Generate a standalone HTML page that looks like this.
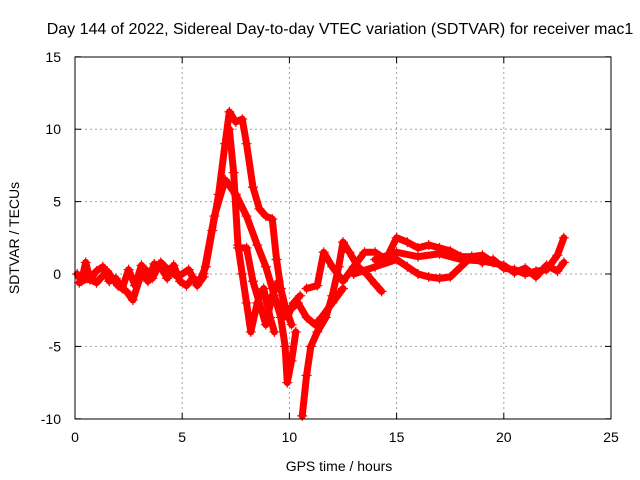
<!DOCTYPE html>
<html><head><meta charset="utf-8"><style>
body{margin:0;background:#fff}
svg{display:block;font-family:"Liberation Sans",sans-serif}
</style></head><body>
<svg id="c" width="640" height="480">
<text x="340" y="34" text-anchor="middle" font-size="16">Day 144 of 2022, Sidereal Day-to-day VTEC variation (SDTVAR) for receiver mac1</text>
<text x="339" y="471" text-anchor="middle" font-size="14">GPS time / hours</text>
<text transform="translate(19,238) rotate(-90)" text-anchor="middle" font-size="14">SDTVAR / TECUs</text>
<g id="grid"></g><g id="ticks"></g><g id="marks"></g>
<rect x="75" y="57" width="536" height="362" fill="none" stroke="#000" stroke-width="1"/>
</svg>
<script>
const xTicks=[0,5,10,15,20,25];
const yTicks=[-10,-5,0,5,10,15];
const trackA=[[0.1,0],[0.3,-0.5],[0.5,0.8],[0.7,-0.4],[1,0.2],[1.3,0.5],[1.6,-0.5],[1.9,-0.3],[2.2,-1],[2.5,0.3],[2.8,-0.8],[3.1,0.6],[3.4,-0.5],[3.7,0.7],[4,0.5],[4.3,-0.3],[4.6,0.6],[4.9,-0.5],[5.2,-0.8],[5.5,-0.3],[5.8,-0.5],[6.1,0.5],[6.4,3],[6.7,5.5],[7,9],[7.2,11.2],[7.5,10.5],[7.8,10.7],[8,9],[8.3,6],[8.6,4.5],[8.9,4],[9.2,3.8],[9.4,1],[9.6,-1],[9.9,-3],[10.2,-2],[10.5,-1.5]];
const trackA2=[[0.2,-0.6],[0.6,-0.3],[1,-0.6],[1.5,0.2],[2,-0.8],[2.4,-1.2],[2.7,-1.8],[3,-0.4],[3.3,0.3],[3.6,-0.3],[4,0.8],[4.4,0.2],[4.8,-0.2],[5.3,0.3],[5.7,-0.8],[6,-0.2]];
const trackB=[[6,0],[6.5,4],[7,6.5],[7.5,5.5],[8,4],[8.5,2],[8.9,0.5],[9.3,-1.5],[9.6,-3],[9.8,-5],[9.9,-7.5],[10.1,-6],[10.3,-4]];
const trackC=[[7.2,10],[7.4,7],[7.6,2],[7.8,0],[8,-2],[8.2,-4],[8.5,-2],[8.8,-1],[9.1,-3],[9.3,-4]];
const trackC2=[[7.6,1.8],[8,1.8],[8.3,-0.5],[8.6,-2],[8.9,-3.5],[9.2,-1.5],[9.5,-0.5],[9.8,-2.2],[10.1,-3.5]];
const trackD=[[10.6,-9.8],[10.8,-7],[11,-5],[11.3,-4],[11.7,-3],[12,-1.5],[12.3,0.5],[12.5,2.2],[12.8,1.5],[13.2,0.5],[13.6,0],[14,-0.7],[14.3,-1.2]];
const trackE=[[10.8,-1],[11.3,-0.8],[11.6,1.5],[12,0.5],[12.5,-0.5],[13,0.5],[13.5,1.5],[14,1.5],[14.5,1],[15,2.5],[15.5,2.2],[16,1.8],[16.5,2],[17,1.8],[17.5,1.6],[18,1.2],[18.5,1.2],[19,0.8],[19.5,1],[20,0.4],[20.5,0.3],[21,0],[21.5,0.2],[22,0.3],[22.5,1.3],[22.8,2.5]];
const trackF=[[13,0],[14,0.5],[15,1],[15.5,0.5],[16,0],[16.5,-0.2],[17,-0.3],[17.5,-0.2],[18,0.5],[18.5,1.2],[19,1.3],[19.5,0.8]];
const trackF2=[[14,1],[15,1.5],[16,1.2],[17,1.4],[18,1.0],[19,0.9],[20,0.6],[20.5,0.1],[21,0.4],[21.5,-0.2],[22,0.6],[22.5,0.2],[22.8,0.8]];
const trackG=[[9.5,-2],[10,-2.5],[10.4,-2],[10.8,-3],[11.2,-3.5],[11.5,-3],[12,-2],[12.5,-1]];
const tracks=[trackA,trackA2,trackB,trackC,trackC2,trackD,trackE,trackF,trackF2,trackG];
const X=t=>75+t*536/25, Y=v=>274-v*362/25;
const NS='http://www.w3.org/2000/svg';
function mk(tag,attrs,parent){const e=document.createElementNS(NS,tag);for(const k in attrs)e.setAttribute(k,attrs[k]);parent.appendChild(e);return e;}
const grid=document.getElementById('grid'),ticks=document.getElementById('ticks'),marks=document.getElementById('marks');
xTicks.forEach(t=>{const x=X(t);
 if(t>0&&t<25){const g=mk('line',{x1:x,x2:x,y1:57,y2:419,stroke:'#a0a0a0','stroke-dasharray':'2,3'},grid);
 
 }
 mk('line',{x1:x,x2:x,y1:419,y2:413,stroke:'#000'},ticks);mk('line',{x1:x,x2:x,y1:57,y2:63,stroke:'#000'},ticks);
 const l=mk('text',{x:x,y:442,'text-anchor':'middle','font-size':14},ticks);l.textContent=t;
 
 });
yTicks.forEach(v=>{const y=Y(v);
 if(v>-10&&v<15){const g=mk('line',{x1:75,x2:611,y1:y,y2:y,stroke:'#a0a0a0','stroke-dasharray':'2,3'},grid);
 
 }
 mk('line',{x1:75,x2:81,y1:y,y2:y,stroke:'#000'},ticks);mk('line',{x1:605,x2:611,y1:y,y2:y,stroke:'#000'},ticks);
 const l=mk('text',{x:61,y:y+5,'text-anchor':'end','font-size':14},ticks);l.textContent=v;
 
 });
tracks.forEach((tr,i)=>{
 const p=mk('polyline',{points:tr.map(d=>X(d[0])+','+Y(d[1])).join(' '),fill:'none',stroke:'#ff0000','stroke-width':7,'stroke-linejoin':'round','stroke-linecap':'round'},marks);
 
 
 tr.forEach(d=>{const x=X(d[0]),y=Y(d[1]);
  const m=mk('path',{d:`M${x-5},${y}h10M${x},${y-5}v10`,stroke:'#ff0000','stroke-width':1.2},marks);
  
  });
});
</script>
</body></html>
